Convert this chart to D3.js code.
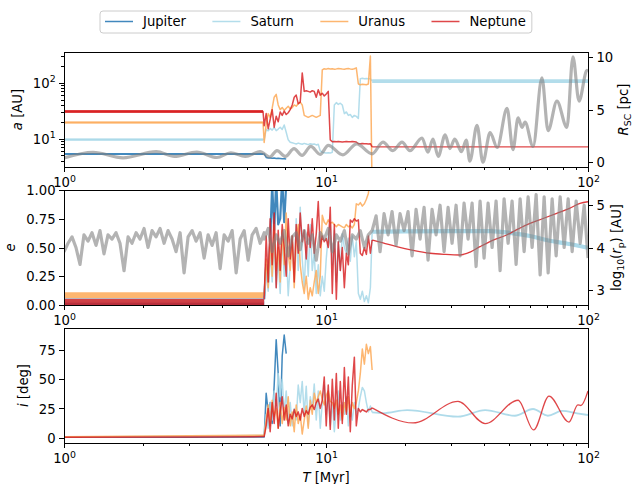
<!DOCTYPE html>
<html>
<head>
<meta charset="utf-8">
<script src="https://cdn.jsdelivr.net/npm/d3@7/dist/d3.min.js"></script>
<style>
  html, body { margin: 0; padding: 0; background: #fff; }
  svg { display: block; font-family: "DejaVu Sans", sans-serif; font-size: 13.2px; }
</style>
</head>
<body>
<svg id="chart" width="634" height="484"></svg>
<script>
// ---------- planets ----------
const planetNames = ["Jupiter", "Saturn", "Uranus", "Neptune"];
const planetColors = ["#2c7bb6", "#abd9e9", "#fdae61", "#d7191c"];
const planetAlpha = [0.9, 0.9, 0.9, 0.8];

// ---------- ticks ----------
const xMajorTicks = [1, 10, 100];
const xMinorTicks = [2, 3, 4, 5, 6, 7, 8, 9, 20, 30, 40, 50, 60, 70, 80, 90];
const aMajorTicks = [10, 100];
const aMinorTicks = [4, 5, 6, 7, 8, 9, 20, 30, 40, 50, 60, 70, 80, 90, 200, 300];
const rscTicks = [0, 5, 10];
const eTicks = [0, 0.25, 0.5, 0.75, 1];
const rpTicks = [3, 4, 5];
const iTicks = [0, 25, 50, 75];

// ---------- sample times [Myr] ----------
const tEarly = [1.0, 1.036, 1.073, 1.111, 1.151, 1.192, 1.235, 1.279, 1.325, 1.372,
  1.421, 1.472, 1.525, 1.580, 1.636, 1.695, 1.756, 1.818, 1.884, 1.951,
  2.021, 2.093, 2.168, 2.246, 2.326, 2.410, 2.496, 2.585, 2.678, 2.774,
  2.873, 2.976, 3.083, 3.193, 3.307, 3.426, 3.549, 3.676, 3.807, 3.944,
  4.085, 4.231, 4.383, 4.540, 4.702, 4.871, 5.045, 5.226, 5.413, 5.607, 5.808];
const tChaos = [5.808, 5.911, 6.016, 6.122, 6.232, 6.342, 6.455, 6.570, 6.686, 6.805,
  6.926, 7.049, 7.174, 7.301, 7.431, 7.563, 7.697, 7.834, 7.973, 8.115,
  8.259, 8.405, 8.555, 8.707, 8.861, 9.019, 9.179, 9.342, 9.508, 9.677,
  9.848, 10.02, 10.20, 10.38, 10.57, 10.76, 10.95, 11.14, 11.34, 11.54,
  11.75, 11.96, 12.17, 12.38, 12.60, 12.83, 13.05, 13.29, 13.52, 13.76,
  14.01, 14.26, 14.51, 14.77, 15.0];
const tLate = [15.0, 15.53, 16.08, 16.66, 17.26, 17.87, 18.51, 19.17, 19.86, 20.57,
  21.31, 22.07, 22.86, 23.68, 24.52, 25.40, 26.31, 27.25, 28.23, 29.24,
  30.28, 31.37, 32.49, 33.65, 34.86, 36.11, 37.40, 38.73, 40.12, 41.56,
  43.05, 44.59, 46.18, 47.84, 49.55, 51.32, 53.16, 55.07, 57.04, 59.08,
  61.20, 63.39, 65.66, 68.01, 70.45, 72.97, 75.58, 78.29, 81.10, 84.00,
  87.01, 90.13, 93.36, 96.70, 100];

// ---------- semimajor axis a [AU] ----------
const tQuiet = [1.0, 5.75];
const aQuiet = [5.3, 9.6, 19.4, 30.5];
const aChaosJupiter = [5.3, 4.6, 4.5, 4.5, 4.45, 4.5, 4.4, 4.45, 4.4, 4.35, 4.35, 4.3];
const aChaosSaturn = [9.6, 14.5, 13.8, 15.2, 14.2, 15.8, 13.9, 14.8, 16.0, 14.6,
  17.5, 13.0, 9.5, 8.6, 8.4, 8.2, 8.0, 8.3, 8.1, 7.9,
  8.2, 8.0, 7.8, 8.1, 7.9, 8.0, 7.7, 7.9, 6.0, 5.7,
  5.6, 5.5, 5.6, 5.5, 5.7, 40, 44, 41, 43, 40,
  28, 30, 26, 27, 24, 26, 25, 23, 118, 120,
  118, 119, 118, 118, 107];
const aChaosUranus = [8.5, 18, 28, 24, 35, 55, 62, 40, 33, 36,
  32, 35, 38, 34, 36, 40, 38, 42, 45, 40,
  26, 25, 24, 25, 26, 25, 24, 25, 26, 170,
  178, 175, 180, 176, 178, 175, 177, 180, 178, 176,
  175, 178, 180, 177, 175, 178, 185, 95, 92, 94,
  93, 92, 95, 300, 1];
const aChaosNeptune = [17, 28, 15, 22, 33, 16, 25, 20, 30, 26,
  31, 27, 29, 33, 40, 55, 60, 42, 45, 150,
  70, 72, 70, 68, 72, 70, 55, 75, 60, 65,
  58, 63, 70, 9.5, 8.8, 8.9, 8.8, 8.9, 8.8, 8.7,
  8.8, 8.9, 8.8, 8.8, 8.9, 8.8, 8.7, 8.1, 8.1, 8.2,
  8.1, 8.1, 8.0, 8.1, 7.1];
const tLateA = [15.0, 100];
const aLateSaturn = [107, 107];
const aLateNeptune = [7.1, 7.1];

// ---------- cluster-centric distance R_SC [pc] ----------
const rscT = [1.0, 1.29, 1.68, 2.25, 2.64, 3.21, 3.83, 4.33, 4.92, 5.6,
  6.1, 6.5, 7.0, 7.55, 8.1, 8.75, 9.5, 10.2, 11.6, 13.1,
  15.0, 16.5, 18.0, 19.5, 20.9, 23.25, 24.5, 25.6, 26.8, 28.5,
  29.7, 31.0, 32.9, 34.3, 35.4, 37.7, 39.7, 42.3, 45.0, 49.1,
  51.7, 54.1, 56.0, 57.5, 61.7, 66.7, 70.4, 76.1, 83.1, 87.6,
  92.4, 99.1, 100];
const rscVal = [0.4, 0.95, 0.42, 1.0, 0.55, 0.97, 0.45, 0.9, 0.55, 1.0,
  0.5, 1.1, 0.55, 1.3, 0.65, 1.5, 0.75, 1.6, 0.7, 1.75,
  0.8, 1.9, 1.1, 1.9, 1.1, 2.3, 0.95, 2.2, 0.55, 2.6,
  1.3, 2.2, 1.0, 2.1, 0.1, 3.5, 0.0, 2.8, 1.4, 5.1,
  1.2, 4.2, 3.3, 3.8, 1.5, 8.0, 3.0, 5.8, 3.3, 10.0,
  5.8, 8.7, 8.6];

// ---------- eccentricity e ----------
const tQuietBand = [1.0, 5.808];
const eQuietLo = [0.0, 0.02, 0.06, 0.0];
const eQuietHi = [0.03, 0.06, 0.11, 0.055];
const eChaosJupiter = [0.05, 0.35, 0.2, 0.55, 1.05, 0.65, 1.08, 0.7, 0.75, 1.1, 0.72, 1.05];
const eChaosSaturn = [0.05, 0.3, 0.12, 0.45, 0.2, 0.55, 0.15, 0.4, 0.1, 0.6,
  0.25, 0.5, 0.08, 0.35, 0.6, 0.2, 0.75, 0.3, 0.85, 0.4,
  0.15, 0.55, 0.25, 0.7, 0.3, 0.45, 0.1, 0.35, 0.08, 0.25,
  0.12, 0.4, 0.6, 0.7, 0.35, 0.65, 0.2, 0.55, 0.3, 0.62,
  0.5, 0.45, 0.58, 0.38, 0.6, 0.42, 0.55, 0.1, 0.05, 0.12,
  0.03, 0.08, 0.02, 0.15, 0.637];
const eChaosUranus = [0.08, 0.4, 0.15, 0.6, 0.25, 0.7, 0.3, 0.5, 0.2, 0.65,
  0.35, 0.8, 0.45, 0.3, 0.6, 0.15, 0.55, 0.7, 0.35, 0.2,
  0.1, 0.25, 0.05, 0.15, 0.08, 0.2, 0.3, 0.1, 0.25, 0.78,
  0.72, 0.7, 0.74, 0.71, 0.72, 0.7, 0.68, 0.7, 0.69, 0.68,
  0.67, 0.7, 0.68, 0.69, 0.67, 0.7, 0.88, 0.87, 0.89, 0.86,
  0.88, 0.92, 0.97, 1.1, 1.3];
const eChaosNeptune = [0.05, 0.6, 0.2, 0.75, 0.35, 0.8, 0.15, 0.65, 0.3, 0.7,
  0.5, 0.25, 0.75, 0.4, 0.6, 0.2, 0.7, 0.45, 0.8, 0.55,
  0.65, 0.4, 0.7, 0.5, 0.75, 0.45, 0.62, 0.9, 0.5, 0.6,
  0.55, 0.58, 0.5, 0.85, 0.1, 0.7, 0.05, 0.55, 0.3, 0.5,
  0.15, 0.45, 0.35, 0.74, 0.72, 0.75, 0.73, 0.74, 0.45, 0.43,
  0.5, 0.44, 0.6, 0.45, 0.565];
const tLateSaturnE = [15.0, 20, 30, 42.3, 51.9, 60, 69.4, 80, 90, 100];
const eLateSaturn = [0.637, 0.64, 0.642, 0.643, 0.623, 0.6, 0.565, 0.54, 0.52, 0.498];
const tLateNeptuneE = [15.0, 16.5, 18.62, 21.5, 24.95, 28.5, 32.47, 35.5, 38.7, 43,
  48.96, 54, 60.06, 67, 75.96, 85, 93.2, 100];
const eLateNeptune = [0.565, 0.54, 0.507, 0.475, 0.45, 0.44, 0.435, 0.46, 0.507, 0.56,
  0.609, 0.66, 0.71, 0.75, 0.797, 0.84, 0.884, 0.898];

// ---------- log10 of pericentre distance r_p [AU] ----------
const rpEarly = [3.9, 4.1, 4.25, 4.0, 3.6, 4.3, 4.15, 4.35, 4.05, 4.4,
  3.85, 4.3, 4.2, 4.35, 4.1, 3.45, 4.25, 4.1, 4.35, 4.2,
  4.45, 4.0, 4.4, 4.25, 4.45, 4.1, 4.4, 4.2, 3.9, 4.35,
  3.4, 4.25, 4.4, 4.15, 4.35, 3.75, 4.3, 4.05, 4.35, 3.5,
  4.3, 4.15, 4.4, 3.4, 4.2, 4.4, 3.7, 4.3, 4.45, 4.1, 4.35];
const rpChaos = [4.2, 4.45, 3.9, 4.3, 4.1, 4.4, 3.8, 4.25, 4.35, 3.95,
  4.4, 4.1, 4.3, 3.7, 4.35, 4.2, 4.45, 3.9, 4.3, 4.15,
  4.4, 3.85, 4.3, 4.2, 4.4, 4.0, 4.3, 4.4];
const rpLate = [4.4, 4.75, 3.9, 4.8, 4.3, 4.85, 4.05, 4.8, 4.4, 4.85,
  3.8, 4.9, 4.2, 4.95, 3.7, 4.9, 4.3, 5.0, 3.9, 4.95,
  4.1, 5.0, 3.8, 5.05, 4.2, 5.05, 3.55, 5.1, 3.75, 5.05,
  4.0, 5.1, 3.45, 5.15, 4.1, 5.1, 3.6, 5.15, 3.9, 5.2,
  4.0, 5.25, 3.35, 5.2, 3.4, 5.15, 3.8, 5.2, 4.0, 5.15,
  3.9, 5.1, 4.1, 5.0, 3.75];

// ---------- inclination i [deg] ----------
const tQuietI = [1.0, 3.0, 5.75];
const iQuietJupiter = [0.2, 0.3, 0.4];
const iQuietSaturn = [0.5, 1.2, 1.8];
const iQuietUranus = [0.6, 1.5, 2.0];
const iQuietNeptune = [0.3, 0.5, 0.8];
const iChaosJupiter = [0.4, 38, 22, 30, 12, 45, 84, 55, 10, 70, 88, 72];
const iChaosSaturn = [1.8, 20, 8, 30, 15, 40, 25, 55, 35, 50,
  20, 40, 12, 30, 10, 25, 15, 45, 30, 48,
  20, 44, 10, 35, 25, 46, 15, 40, 8, 30,
  45, 20, 38, 10, 30, 5, 25, 40, 15, 30,
  20, 35, 10, 28, 15, 30, 20, 25, 35, 43,
  40, 30, 22, 27, 21.6];
const iChaosUranus = [2, 15, 28, 10, 32, 18, 25, 8, 30, 12,
  26, 15, 35, 10, 22, 5, 28, 12, 20, 3,
  15, 27, 8, 32, 20, 38, 30, 35, 40, 33,
  28, 36, 40, 31, 30, 25, 32, 20, 28, 15,
  30, 22, 35, 18, 30, 25, 30, 40, 55, 76,
  63, 80, 72, 78, 58];
const iChaosNeptune = [0.8, 10, 25, 5, 30, 12, 38, 8, 22, 35,
  15, 28, 10, 20, 16, 24, 18, 22, 15, 25,
  18, 23, 20, 26, 28, 24, 30, 33, 25, 32,
  52, 10, 45, 7, 50, 15, 55, 8, 48, 12,
  60, 20, 52, 5, 45, 69, 10, 25, 22, 24,
  23, 22, 24, 24, 25.5];
const tLateSaturnI = [15.0, 16.5, 20.4, 31.9, 40.5, 52.6, 61.7, 70.3, 79.6, 90.8, 100];
const iLateSaturn = [21.6, 21.0, 23.6, 17.9, 23.6, 18.7, 24.5, 18.7, 22.8, 20.8, 19.3];
const tLateNeptuneI = [15.0, 21.5, 31.9, 40.5, 54.1, 62.0, 71.0, 84.6, 91.5, 94.0, 100];
const iLateNeptune = [25.5, 12.5, 31, 12, 32, 6.5, 35.6, 13.3, 28, 27.5, 40];

// =====================================================================
const svg = d3.select("#chart");
const FS = 13.2, FS_SMALL = 9.4;
const GREY = "#808080";

const x = d3.scaleLog().domain([1, 100]).range([64, 588]);
const panels = [
  { top: 52, bottom: 167 },
  { top: 190, bottom: 305 },
  { top: 328, bottom: 443 }
];
const yA = d3.scaleLog().domain([3.1, 355]).range([panels[0].bottom, panels[0].top]);
const yR = d3.scaleLinear().domain([-0.45, 10.45]).range([panels[0].bottom, panels[0].top]);
const yE = d3.scaleLinear().domain([0, 1]).range([panels[1].bottom, panels[1].top]);
const yRp = d3.scaleLinear().domain([2.64, 5.36]).range([panels[1].bottom, panels[1].top]);
const yI = d3.scaleLinear().domain([-4.7, 94]).range([panels[2].bottom, panels[2].top]);

// clip regions for the three panels
const defs = svg.append("defs");
panels.forEach((p, k) => {
  defs.append("clipPath").attr("id", "clip" + k)
    .append("rect")
    .attr("x", x.range()[0]).attr("y", p.top)
    .attr("width", x.range()[1] - x.range()[0]).attr("height", p.bottom - p.top);
});
const layers = panels.map((p, k) => svg.append("g").attr("clip-path", `url(#clip${k})`));

const pts = (t, v) => d3.zip(t, v);
function drawLine(g, data, yScale, color, width, opacity, curve) {
  g.append("path")
    .datum(data)
    .attr("fill", "none")
    .attr("stroke", color)
    .attr("stroke-width", width)
    .attr("stroke-opacity", opacity)
    .attr("stroke-linejoin", "round")
    .attr("d", d3.line().x(d => x(d[0])).y(d => yScale(d[1])).curve(curve || d3.curveLinear));
}

// ---------- panel 1: semimajor axes + cluster-centric distance ----------
const aChaos = [aChaosJupiter, aChaosSaturn, aChaosUranus, aChaosNeptune];
const quietWidths = [1.6, 2.2, 2.2, 3.0];
planetNames.forEach((name, k) => {
  const series = pts(tQuiet, [aQuiet[k], aQuiet[k]]).concat(pts(tChaos, aChaos[k]));
  drawLine(layers[0], series, yA, planetColors[k], 1.5, planetAlpha[k]);
  drawLine(layers[0], pts(tQuiet, [aQuiet[k], aQuiet[k]]), yA, planetColors[k], quietWidths[k], planetAlpha[k]);
});
drawLine(layers[0], pts(tLateA, aLateSaturn), yA, planetColors[1], 3.8, 0.9);
drawLine(layers[0], pts(tLateA, aLateNeptune), yA, planetColors[3], 1.3, 0.8);
drawLine(layers[0], pts(rscT, rscVal), yR, GREY, 3.2, 0.6, d3.curveMonotoneX);

// ---------- panel 2: eccentricities + pericentre distance ----------
planetNames.forEach((name, k) => {
  layers[1].append("path")
    .datum(tQuietBand.map(t => [t, eQuietLo[k], eQuietHi[k]]))
    .attr("fill", planetColors[k])
    .attr("fill-opacity", planetAlpha[k])
    .attr("d", d3.area().x(d => x(d[0])).y0(d => yE(d[1])).y1(d => yE(d[2])));
});
const eChaos = [eChaosJupiter, eChaosSaturn, eChaosUranus, eChaosNeptune];
planetNames.forEach((name, k) => {
  const w = k === 0 ? 2.2 : 1.5;
  drawLine(layers[1], pts(tChaos, eChaos[k]), yE, planetColors[k], w, planetAlpha[k]);
});
drawLine(layers[1], pts(tLateSaturnE, eLateSaturn), yE, planetColors[1], 4.2, 1, d3.curveMonotoneX);
drawLine(layers[1], pts(tLateNeptuneE, eLateNeptune), yE, planetColors[3], 1.3, 0.85, d3.curveMonotoneX);
const tChaosEven = tChaos.filter((t, j) => j % 2 === 0);
const rpSeries = pts(tEarly, rpEarly).concat(pts(tChaosEven, rpChaos)).concat(pts(tLate, rpLate));
drawLine(layers[1], rpSeries, yRp, GREY, 3.2, 0.6);

// ---------- panel 3: inclinations ----------
const iQuiet = [iQuietJupiter, iQuietSaturn, iQuietUranus, iQuietNeptune];
const iChaos = [iChaosJupiter, iChaosSaturn, iChaosUranus, iChaosNeptune];
planetNames.forEach((name, k) => {
  const series = pts(tQuietI, iQuiet[k]).concat(pts(tChaos, iChaos[k]));
  drawLine(layers[2], series, yI, planetColors[k], 1.5, planetAlpha[k]);
});
drawLine(layers[2], pts(tLateSaturnI, iLateSaturn), yI, planetColors[1], 1.8, 0.95, d3.curveMonotoneX);
drawLine(layers[2], pts(tLateNeptuneI, iLateNeptune), yI, planetColors[3], 1.3, 0.8, d3.curveMonotoneX);

// ---------- frames & axes ----------
function cleanAxis(g) {
  g.attr("font-size", null).attr("font-family", null);
  g.select(".domain").remove();
  g.selectAll(".tick line").attr("stroke", "#000").attr("stroke-width", 1).attr("shape-rendering", "crispEdges");
  g.selectAll(".tick text").attr("fill", "#000");
  return g;
}
function powerLabel(textSel) {
  textSel.text(null).each(function (d) {
    const t = d3.select(this);
    t.append("tspan").text("10");
    t.append("tspan").attr("font-size", FS_SMALL).attr("dy", -5.5).text(Math.round(Math.log10(d)));
  });
}

panels.forEach((p, k) => {
  svg.append("rect")
    .attr("x", x.range()[0]).attr("y", p.top)
    .attr("width", x.range()[1] - x.range()[0]).attr("height", p.bottom - p.top)
    .attr("fill", "none").attr("stroke", "#000").attr("stroke-width", 1)
    .attr("shape-rendering", "crispEdges");

  cleanAxis(svg.append("g").attr("transform", `translate(0,${p.bottom})`)
    .call(d3.axisBottom(x).tickValues(xMinorTicks).tickSize(2.8).tickFormat("")))
    .selectAll("text").remove();
  const gx = cleanAxis(svg.append("g").attr("transform", `translate(0,${p.bottom})`)
    .call(d3.axisBottom(x).tickValues(xMajorTicks).tickSize(4.9).tickPadding(3.5)));
  gx.selectAll(".tick text").attr("y", 20).attr("dy", null).call(powerLabel);
});

// left axes
const gA = cleanAxis(svg.append("g").attr("transform", `translate(${x.range()[0]},0)`)
  .call(d3.axisLeft(yA).tickValues(aMajorTicks).tickSize(4.9).tickPadding(3.5)));
gA.selectAll(".tick text").attr("dy", "0.35em").call(powerLabel);
cleanAxis(svg.append("g").attr("transform", `translate(${x.range()[0]},0)`)
  .call(d3.axisLeft(yA).tickValues(aMinorTicks).tickSize(2.8).tickFormat("")))
  .selectAll("text").remove();
cleanAxis(svg.append("g").attr("transform", `translate(${x.range()[0]},0)`)
  .call(d3.axisLeft(yE).tickValues(eTicks).tickSize(4.9).tickPadding(3.5).tickFormat(d3.format(".2f"))))
  .selectAll(".tick text").attr("dy", "0.35em");
cleanAxis(svg.append("g").attr("transform", `translate(${x.range()[0]},0)`)
  .call(d3.axisLeft(yI).tickValues(iTicks).tickSize(4.9).tickPadding(3.5).tickFormat(d3.format("d"))))
  .selectAll(".tick text").attr("dy", "0.35em");

// right axes
cleanAxis(svg.append("g").attr("transform", `translate(${x.range()[1]},0)`)
  .call(d3.axisRight(yR).tickValues(rscTicks).tickSize(4.9).tickPadding(3.5).tickFormat(d3.format("d"))))
  .selectAll(".tick text").attr("dy", "0.35em");
cleanAxis(svg.append("g").attr("transform", `translate(${x.range()[1]},0)`)
  .call(d3.axisRight(yRp).tickValues(rpTicks).tickSize(4.9).tickPadding(3.5).tickFormat(d3.format("d"))))
  .selectAll(".tick text").attr("dy", "0.35em");

// ---------- axis titles ----------
// parts: [text, style] where style is "it" (italic), "sub" (subscript) or "" (upright)
function mathText(x0, y0, rotate, parts) {
  const t = svg.append("text")
    .attr("transform", `translate(${x0},${y0})` + (rotate ? " rotate(-90)" : ""))
    .attr("text-anchor", "middle").attr("fill", "#000").attr("font-size", FS);
  let shifted = false;
  parts.forEach(([s, style]) => {
    const sp = t.append("tspan").text(s);
    if (style === "it") sp.attr("font-style", "italic");
    if (style === "sub") {
      sp.attr("font-size", FS_SMALL);
      if (!shifted) { sp.attr("dy", 3); shifted = true; }
    } else if (shifted) {
      sp.attr("dy", -3); shifted = false;
    }
  });
  return t;
}
const midY = k => (panels[k].top + panels[k].bottom) / 2;
mathText(22, midY(0), true, [["a", "it"], [" [AU]", ""]]);
mathText(15, midY(1), true, [["e", "it"]]);
mathText(27.5, midY(2), true, [["i", "it"], [" [deg]", ""]]);
mathText(628, midY(0), true, [["R", "it"], ["SC", "sub"], [" [pc]", ""]]);
mathText(621, midY(1), true, [["log", ""], ["10", "sub"], ["(", ""], ["r", "it"], ["p", "sub"], [")", ""], [" [AU]", ""]]);
mathText((x.range()[0] + x.range()[1]) / 2, 482, false, [["T", "it"], [" [Myr]", ""]]);

// ---------- legend ----------
const legend = svg.append("g");
const legBox = legend.append("rect")
  .attr("x", 100).attr("y", 11).attr("height", 22).attr("rx", 3)
  .attr("fill", "#fff").attr("fill-opacity", 0.8)
  .attr("stroke", "#cccccc").attr("stroke-width", 1);
let cursor = 105;
planetNames.forEach((name, k) => {
  legend.append("line")
    .attr("x1", cursor).attr("x2", cursor + 28).attr("y1", 21.5).attr("y2", 21.5)
    .attr("stroke", planetColors[k]).attr("stroke-opacity", planetAlpha[k]).attr("stroke-width", 1.5);
  const txt = legend.append("text")
    .attr("x", cursor + 38).attr("y", 26).attr("font-size", FS).attr("fill", "#000")
    .text(name);
  const w = txt.node().getComputedTextLength();
  cursor = cursor + 38 + w + (k < planetNames.length - 1 ? 26.4 : 6);
});
legBox.attr("width", cursor - 100);
</script>
</body>
</html>
